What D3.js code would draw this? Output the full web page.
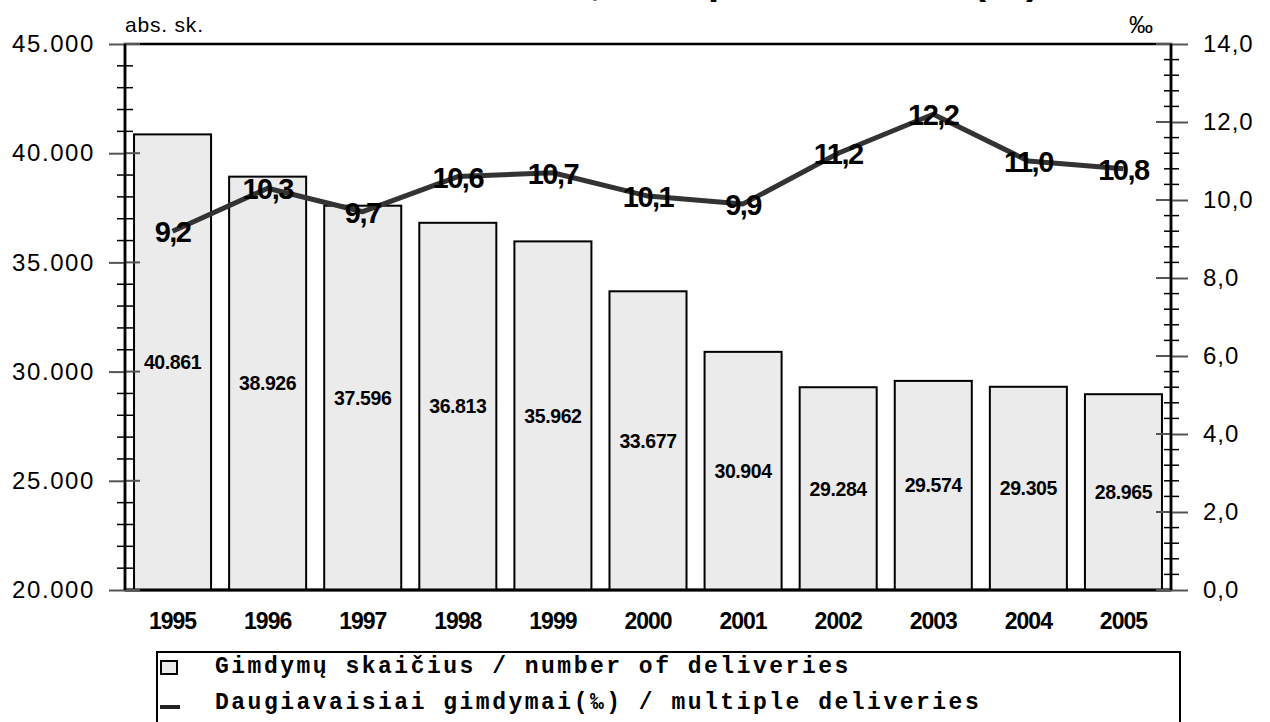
<!DOCTYPE html>
<html>
<head>
<meta charset="utf-8">
<script src="https://cdn.jsdelivr.net/npm/d3@7"></script>
<style type="text/css">
  body{
    margin: 0;
    background: white;
    font-family: Arial, 'Liberation Sans', sans-serif;
  }
  .axis path{ stroke: none; }
  .axis text{ fill: black; }
</style>
</head>
<body>

<svg id="chart" width="1270" height="722"></svg>

<script>

// data
var years = ['1995','1996','1997','1998','1999','2000','2001','2002','2003','2004','2005'];
var deliveries = [40861, 38926, 37596, 36813, 35962, 33677, 30904, 29284, 29574, 29305, 28965];
var multipleRate = [9.2, 10.3, 9.7, 10.6, 10.7, 10.1, 9.9, 11.2, 12.2, 11.0, 10.8];

var leftTicks = [20000, 25000, 30000, 35000, 40000, 45000];
var leftMinor = d3.range(20000, 45001, 1000);
var rightTicks = [0, 2, 4, 6, 8, 10, 12, 14];
var rightMinor = d3.range(0, 14.01, 0.4);

var legendLabels = ['Gimdymų skaičius / number of deliveries',
                    'Daugiavaisiai gimdymai(‰) / multiple deliveries'];
var titleText = 'Number of deliveries, multiple deliveries (‰)';

var ltLocale = d3.formatLocale({decimal: ',', thousands: '.', grouping: [3], currency: ['', '']});
var fmtInt = ltLocale.format(',d');
var fmtDec = ltLocale.format('.1f');

var plotLeft = 125, plotRight = 1171, plotTop = 44, plotBottom = 590;

var svg = d3.select('#chart');

var x = d3.scaleBand()
    .domain(years)
    .range([plotLeft, plotRight])
    .paddingInner(0.19)
    .paddingOuter(0.095);

var yL = d3.scaleLinear().domain([20000, 45000]).range([plotBottom, plotTop]);
var yR = d3.scaleLinear().domain([0, 14]).range([plotBottom, plotTop]);

// title, mostly cut off at the top edge
svg.append('text')
    .attr('x', 617)
    .attr('y', -6)
    .attr('text-anchor', 'middle')
    .style('font-size', '40px')
    .style('font-weight', 'bold')
    .text(titleText);

// frame
svg.append('rect')
    .attr('x', plotLeft).attr('y', plotTop)
    .attr('width', plotRight - plotLeft).attr('height', plotBottom - plotTop)
    .attr('fill', 'white')
    .attr('stroke', 'black')
    .attr('stroke-width', 2.5);

// bars
svg.selectAll('.bar')
    .data(deliveries)
    .enter()
    .append('rect')
    .attr('class', 'bar')
    .attr('x', function(d, i) { return x(years[i]); })
    .attr('y', function(d) { return yL(d); })
    .attr('width', x.bandwidth())
    .attr('height', function(d) { return plotBottom - yL(d); })
    .attr('fill', '#ebebeb')
    .attr('stroke', 'black')
    .attr('stroke-width', 2);

svg.append('line')
    .attr('x1', plotLeft).attr('x2', plotRight)
    .attr('y1', plotBottom).attr('y2', plotBottom)
    .attr('stroke', 'black').attr('stroke-width', 3);

// bar value labels
svg.selectAll('.barLabel')
    .data(deliveries)
    .enter()
    .append('text')
    .attr('class', 'barLabel')
    .attr('x', function(d, i) { return x(years[i]) + x.bandwidth() / 2; })
    .attr('y', function(d) { return (yL(d) + plotBottom) / 2 + 7; })
    .attr('text-anchor', 'middle')
    .style('font-size', '19.5px')
    .style('font-weight', 'bold')
    .style('letter-spacing', '-0.4px')
    .text(function(d) { return fmtInt(d); });

// left axis
var leftAxis = d3.axisLeft(yL)
    .tickValues(leftTicks)
    .tickSize(16)
    .tickPadding(14)
    .tickFormat(fmtInt);

var gL = svg.append('g')
    .attr('class', 'axis')
    .attr('transform', 'translate(' + plotLeft + ',0)')
    .call(leftAxis);
gL.selectAll('line').attr('stroke', '#555').attr('stroke-width', 2);
gL.selectAll('text').style('font-size', '24px').style('letter-spacing', '1.6px');

svg.selectAll('.lMajorIn')
    .data(leftTicks)
    .enter()
    .append('line')
    .attr('x1', plotLeft).attr('x2', plotLeft + 15)
    .attr('y1', function(d) { return yL(d); })
    .attr('y2', function(d) { return yL(d); })
    .attr('stroke', '#555').attr('stroke-width', 2);

svg.selectAll('.lMinor')
    .data(leftMinor.filter(function(d) { return d % 5000 !== 0; }))
    .enter()
    .append('line')
    .attr('x1', plotLeft - 8).attr('x2', plotLeft + 8)
    .attr('y1', function(d) { return yL(d); })
    .attr('y2', function(d) { return yL(d); })
    .attr('stroke', 'black').attr('stroke-width', 1.5);

// right axis
var rightAxis = d3.axisRight(yR)
    .tickValues(rightTicks)
    .tickSize(17)
    .tickPadding(15)
    .tickFormat(fmtDec);

var gR = svg.append('g')
    .attr('class', 'axis')
    .attr('transform', 'translate(' + plotRight + ',0)')
    .call(rightAxis);
gR.selectAll('line').attr('stroke', '#555').attr('stroke-width', 2);
gR.selectAll('text').style('font-size', '24px').style('letter-spacing', '1px');

svg.selectAll('.rMajorIn')
    .data(rightTicks)
    .enter()
    .append('line')
    .attr('x1', plotRight - 15).attr('x2', plotRight)
    .attr('y1', function(d) { return yR(d); })
    .attr('y2', function(d) { return yR(d); })
    .attr('stroke', '#555').attr('stroke-width', 2);

svg.selectAll('.rMinor')
    .data(rightMinor.filter(function(d) { return Math.abs(d / 2 - Math.round(d / 2)) > 0.01; }))
    .enter()
    .append('line')
    .attr('x1', plotRight - 7).attr('x2', plotRight + 8)
    .attr('y1', function(d) { return yR(d); })
    .attr('y2', function(d) { return yR(d); })
    .attr('stroke', 'black').attr('stroke-width', 1.5);

// vertical axis lines over the ticks
svg.append('line')
    .attr('x1', plotLeft).attr('x2', plotLeft).attr('y1', plotTop).attr('y2', plotBottom)
    .attr('stroke', 'black').attr('stroke-width', 2.5);
svg.append('line')
    .attr('x1', plotRight).attr('x2', plotRight).attr('y1', plotTop).attr('y2', plotBottom)
    .attr('stroke', 'black').attr('stroke-width', 2.5);

// axis units
svg.append('text')
    .attr('x', 125).attr('y', 32)
    .style('font-size', '21px')
    .style('letter-spacing', '0.8px')
    .text('abs. sk.');
svg.append('text')
    .attr('x', 1129).attr('y', 33)
    .style('font-size', '24px')
    .text('‰');

// year labels
svg.selectAll('.yearLabel')
    .data(years)
    .enter()
    .append('text')
    .attr('class', 'yearLabel')
    .attr('x', function(d) { return x(d) + x.bandwidth() / 2; })
    .attr('y', 629)
    .attr('text-anchor', 'middle')
    .style('font-size', '23px')
    .style('font-weight', 'bold')
    .style('letter-spacing', '-1px')
    .text(function(d) { return d; });

// line
var line = d3.line()
    .x(function(d, i) { return x(years[i]) + x.bandwidth() / 2; })
    .y(function(d) { return yR(d); });

svg.append('path')
    .datum(multipleRate)
    .attr('d', line)
    .attr('fill', 'none')
    .attr('stroke', '#333')
    .attr('stroke-width', 5)
    .attr('stroke-linejoin', 'round');

svg.selectAll('.rateLabel')
    .data(multipleRate)
    .enter()
    .append('text')
    .attr('class', 'rateLabel')
    .attr('x', function(d, i) { return x(years[i]) + x.bandwidth() / 2; })
    .attr('y', function(d) { return yR(d) + 11; })
    .attr('text-anchor', 'middle')
    .style('font-size', '29px')
    .style('font-weight', 'bold')
    .style('letter-spacing', '-1.5px')
    .text(function(d) { return fmtDec(d); });

// legend
var legend = svg.append('g');

legend.append('rect')
    .attr('x', 157).attr('y', 652)
    .attr('width', 1023).attr('height', 100)
    .attr('fill', 'white')
    .attr('stroke', 'black')
    .attr('stroke-width', 2);

legend.append('rect')
    .attr('x', 161).attr('y', 661)
    .attr('width', 16).attr('height', 13)
    .attr('fill', '#ebebeb')
    .attr('stroke', 'black')
    .attr('stroke-width', 2);

legend.append('line')
    .attr('x1', 160).attr('x2', 180)
    .attr('y1', 707).attr('y2', 707)
    .attr('stroke', '#222')
    .attr('stroke-width', 4);

legend.selectAll('.legendText')
    .data(legendLabels)
    .enter()
    .append('text')
    .attr('class', 'legendText')
    .attr('x', 215)
    .attr('y', function(d, i) { return 673 + i * 36; })
    .style('font-family', "'Liberation Mono', 'Courier New', monospace")
    .style('font-size', '23px')
    .style('font-weight', 'bold')
    .style('letter-spacing', '2.5px')
    .text(function(d) { return d; });

</script>
</body>
</html>
